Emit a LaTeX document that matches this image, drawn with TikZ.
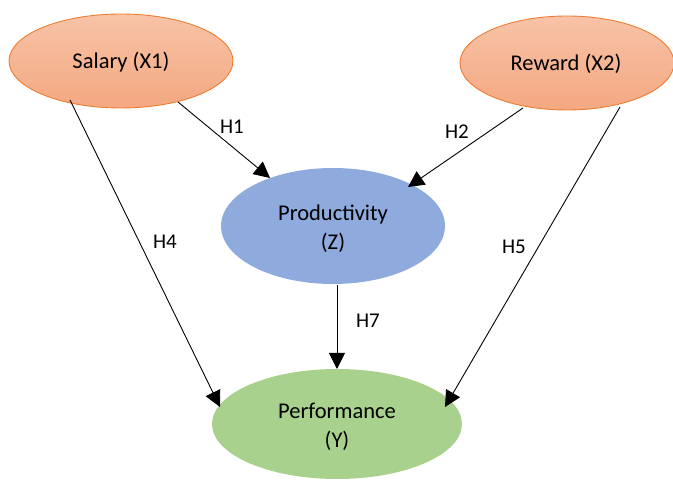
\documentclass[tikz,border=0pt]{standalone}
\usepackage{fontspec}
\setmainfont{Carlito}
\usetikzlibrary{arrows.meta}
\definecolor{orangeTop}{HTML}{F7C3A7}
\definecolor{orangeBot}{HTML}{F4A881}
\definecolor{orangeLine}{HTML}{ED7D31}
\definecolor{blueFill}{HTML}{8FAADC}
\definecolor{greenFill}{HTML}{A9D18E}
\tikzset{
  label text/.style={font=\fontsize{22.5}{29}\selectfont, align=center},
  link/.style={-{Triangle[length=16pt,width=16pt]}, line width=0.9pt},
  hyp/.style={font=\fontsize{21}{24}\selectfont}
}
\begin{document}
\begin{tikzpicture}[x=1pt,y=-1pt]
  \useasboundingbox (0,0) rectangle (673,481);
  % variable ellipses
  \shade[top color=orangeTop, bottom color=orangeBot] (121,61) ellipse [x radius=112, y radius=47];
  \draw[orangeLine, line width=0.9pt] (121,61) ellipse [x radius=112, y radius=47];
  \shade[top color=orangeTop, bottom color=orangeBot] (567,63) ellipse [x radius=107, y radius=47];
  \draw[orangeLine, line width=0.9pt] (567,63) ellipse [x radius=107, y radius=47];
  \fill[blueFill] (333,226) ellipse [x radius=112, y radius=58];
  \fill[greenFill] (337,424) ellipse [x radius=125, y radius=55];
  % labels of the variables
  \node[label text] (x1) at (121,62) {Salary (X1)};
  \node[label text] (x2) at (566,64) {Reward (X2)};
  \node[label text] (z) at (333,229) {Productivity\\(Z)};
  \node[label text] (y) at (337,427) {Performance\\(Y)};
  % anchor points on the ellipse borders
  \coordinate (x1a) at (178,102);
  \coordinate (x1b) at (70,100);
  \coordinate (x2a) at (523,108);
  \coordinate (x2b) at (620,107);
  \coordinate (za) at (270,178);
  \coordinate (zb) at (408,187);
  \coordinate (zc) at (337,285);
  \coordinate (ya) at (337,369);
  \coordinate (yb) at (220,407);
  \coordinate (yc) at (445,407);
  % hypothesis paths
  \draw[link] (x1a) -- (za);
  \draw[link] (x2a) -- (zb);
  \draw[link] (x1b) -- (yb);
  \draw[link] (x2b) -- (yc);
  \draw[link] (zc) -- (ya);
  \node[hyp] (h1) at (232,127) {H1};
  \node[hyp] (h2) at (457,132) {H2};
  \node[hyp] (h4) at (165,242) {H4};
  \node[hyp] (h5) at (514,247) {H5};
  \node[hyp] (h7) at (368,321) {H7};
\end{tikzpicture}
\end{document}
